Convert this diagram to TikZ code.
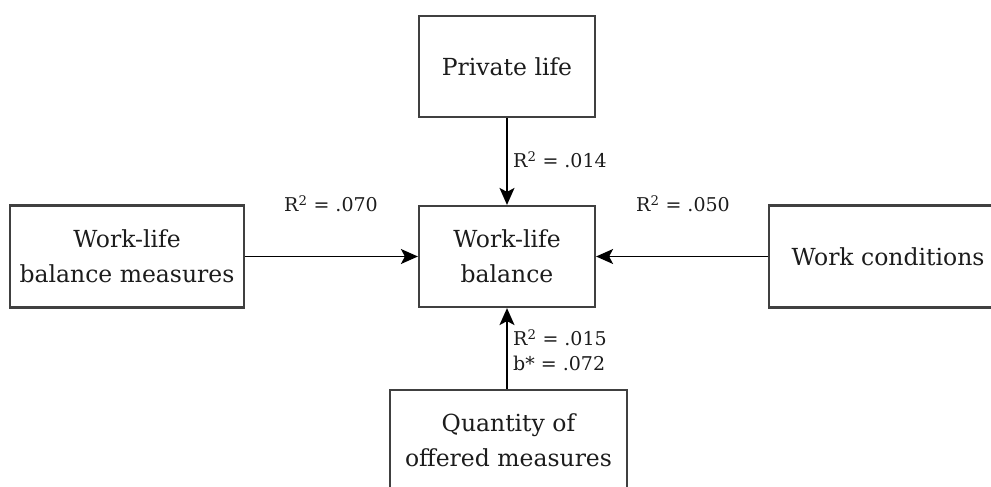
\documentclass[tikz,border=0pt]{standalone}
\usepackage{fontspec}
\setmainfont{DejaVu Serif}
\usetikzlibrary{arrows.meta}
\definecolor{boxgray}{HTML}{404040}
\definecolor{inkblack}{HTML}{1C1C1C}
\begin{document}
\begin{tikzpicture}[x=1pt,y=-1pt,
  box/.style={draw=boxgray, line width=2.2pt, align=center, inner sep=0pt,
    text=inkblack, font=\fontsize{23.5}{35}\selectfont},
  link/.style={line width=1.6pt, black,
    -{Stealth[length=17pt,width=15pt,inset=4pt]}},
  lbl/.style={inner sep=0pt, text=inkblack, align=left,
    font=\fontsize{19}{25}\selectfont}]
\useasboundingbox (0,0) rectangle (991,487);
\clip (0,0) rectangle (991,487);

% boxes
\node[box, minimum width=176pt, minimum height=101pt] (priv) at (507,66.5) {Private life};
\node[box, minimum width=176pt, minimum height=101pt] (wlb) at (507,256.5) {Work-life\\balance};
\node[box, minimum width=234pt, minimum height=102pt] (wlbm) at (127,256.5) {Work-life\\balance measures};
\node[box, minimum width=238pt, minimum height=102pt] (wc) at (888,256.5) {Work conditions};
\node[box, minimum width=237pt, minimum height=101pt] (qty) at (508.5,440.5) {Quantity of\\offered measures};

% connectors
\draw[link] (priv.south) -- (wlb.north);
\draw[link] (wlbm.east) -- (wlb.west);
\draw[link] (wc.west) -- (wlb.east);
\draw[link] (wlb.south |- qty.north) -- (wlb.south);

% path coefficients
\node[lbl, anchor=west] (l1) at (513,160) {R\textsuperscript{2} = .014};
\node[lbl] (l2) at (331,204) {R\textsuperscript{2} = .070};
\node[lbl] (l3) at (683,204) {R\textsuperscript{2} = .050};
\node[lbl, anchor=west] (l4) at (513,350) {R\textsuperscript{2} = .015\\b* = .072};
\end{tikzpicture}
\end{document}
